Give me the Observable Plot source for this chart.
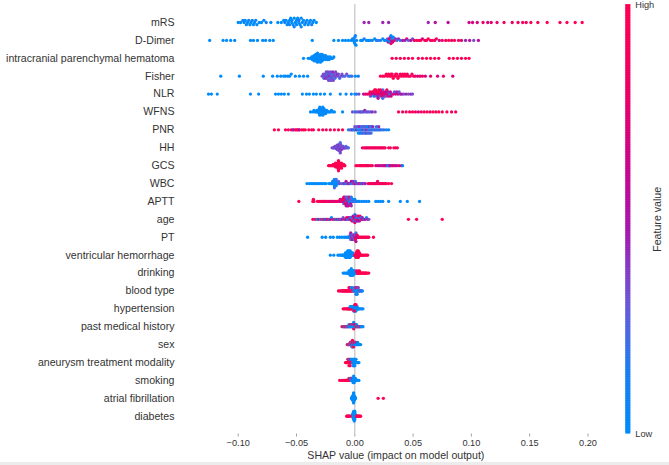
<!DOCTYPE html>
<html><head><meta charset="utf-8">
<script src="https://cdn.jsdelivr.net/npm/d3@7"></script>
<script src="https://cdn.jsdelivr.net/npm/@observablehq/plot@0.6"></script>
<style>
body{margin:0;background:#fff;}
#wrap{position:relative;width:669px;height:465px;overflow:hidden;font-family:"Liberation Sans",Arial,sans-serif;}
#wrap svg{position:absolute;top:0;}
#strip{position:absolute;left:0;bottom:0;width:669px;height:3px;background:#ececec;}
</style></head><body><div id="wrap"><div id="strip"></div></div>
<script>
// Features (top to bottom)
const features = ["mRS","D-Dimer","intracranial parenchymal hematoma","Fisher","NLR","WFNS","PNR","HH","GCS","WBC","APTT","age","PT","ventricular hemorrhage","drinking","blood type","hypertension","past medical history","sex","aneurysm treatment modality","smoking","atrial fibrillation","diabetes"];
// SHAP values in units of 0.001; feature values coded 0 (low) .. 9 (high)
const shap_mRS = [-100,-98,-96,-95,-94,-93,-92,-91,-90,-89,-88,-87,-86,-85,-84,-82,-80,-78,-76,-72,-66,-63,-61,-60,-59,-58,-57,-56,-56,-55,-54,-54,-53,-52,-52,-51,-50,-50,-49,-48,-48,-47,-46,-46,-45,-44,-43,-42,-41,-40,-39,-38,-37,-36,-35,-33,8,12,24,29,63,69,80,98,101,105,110,114,117,122,128,135,140,144,147,151,157,165,176,182,189,195];
const fv_mRS = [0,0,1,0,0,0,0,1,0,0,0,0,0,1,0,0,0,0,1,0,0,0,0,1,0,0,0,0,1,0,0,0,0,0,1,0,0,0,0,0,1,0,0,0,0,0,0,1,0,0,0,0,1,0,0,0,4,4,4,4,4,5,5,6,6,6,7,6,7,7,8,7,8,8,8,9,8,9,9,9,9,9];
const shap_DDimer = [-124.5,-113,-110,-106.5,-103,-89.5,-87,-83.5,-79,-76.5,-73,-70,-36.5,-18,-14,-10.5,-8,-5.5,-3,-2,-1,-1,-0.5,0,0,0.5,1,1.5,5,6.5,8,10,11.5,13,15,17,18.5,20,22,24,25.5,27,28,28.5,29,29.5,30,30.5,31,31,31.5,32,32.5,33,34,35,36,37.5,39,41,43,44.5,46,48,49.5,51,53,55,56.5,58,60,61.5,63,65,66.5,68.5,70,72.5,75,78,80.5,83,85.5,89,91.5,95,98.5,102,106];
const fv_DDimer = [0,0,0,0,0,0,0,0,0,0,0,0,0,0,0,0,0,0,0,0,0,1,0,0,0,1,0,0,0,0,1,0,0,0,1,0,0,2,0,1,0,0,2,5,1,7,0,4,8,0,5,1,6,0,9,4,2,4,1,5,4,6,2,5,3,7,9,8,9,6,9,8,9,7,9,8,9,5,9,8,9,7,8,9,6,4,5,3,5];
const shap_IPH = [-44,-40,-38.5,-37.5,-37,-36.5,-36,-36,-35.5,-35,-35,-34.5,-34.5,-34,-34,-33.5,-33.5,-33,-33,-33,-32.5,-32.5,-32,-32,-32,-31.5,-31.5,-31,-31,-31,-30.5,-30.5,-30,-30,-30,-29.5,-29.5,-29,-29,-28.5,-28.5,-28,-28,-27.5,-27,-27,-26.5,-26,-25.5,-25,-25,-24.5,-24,-23.5,-23,-22.5,-22,-21.5,-21,-20,-19,-18,32,35.5,39,42.5,46,49.5,54.5,58,61.5,65,68.5,72,81,84.5,88,91.5,95,98];
const fv_IPH = [0,0,0,0,0,0,0,0,0,0,0,0,0,0,0,0,0,0,0,0,0,0,0,0,0,0,0,0,0,0,0,0,0,0,0,0,0,0,0,0,0,0,0,0,0,0,0,0,0,0,0,0,0,0,0,0,0,0,0,0,0,0,9,9,8,9,9,9,8,9,9,9,9,8,9,9,9,8,9,9];
const shap_Fisher = [-115,-99,-78.5,-70.5,-66.5,-63.5,-61,-59.5,-57.5,-56,-54.5,-51,-47.5,-44,-40.5,-28,-27,-26.5,-26,-25.5,-25,-24.5,-24,-24,-23.5,-23,-22.5,-22,-22,-21.5,-21,-20.5,-20,-20,-19.5,-19,-18.5,-18,-17.5,-17,-16.5,-16,-15,-14.5,-14,-13,-12,-11,-10,-8.5,-7,-5.5,-4,-2.5,0.5,3,22,24,25.5,27,28,29,30,31,31.5,32,33,34,35,35.5,36,37,38,39,40,41,42,43,44,45,46,47.5,49,50.5,52,54,56,58,60.5,65,71,76,84];
const fv_Fisher = [0,0,0,0,0,0,0,0,0,0,0,0,0,0,0,3,3,2,3,3,4,3,3,2,3,3,3,4,3,2,3,3,3,2,3,4,3,3,3,2,3,3,4,3,3,2,3,3,3,2,3,2,1,2,0,1,9,9,9,9,8,9,9,9,9,8,9,9,9,9,8,9,9,9,9,8,9,8,9,8,7,9,8,7,8,6,7,8,6,7,6,7,6];
const shap_NLR = [-125.5,-123,-118,-89.5,-82.5,-68,-65.5,-63,-60.5,-57,-45,-41.5,-39,-35.5,-33,-29.5,-26,-21,-12.5,-7.5,-3,0,1.5,3.5,7.5,9,10.5,12,13,13.5,14,15,15.5,16,16.5,17,17.5,18,18.5,19,19.5,20,20.5,21,21.5,22,22.5,23,23.5,24,24.5,25,25.5,26,26.5,27,27.5,28,28.5,29,30,30.5,31,32,33,34,35,36,37,38,39,40.5,42,44,46,48,49.5,18,20,22,24];
const fv_NLR = [0,0,0,0,0,0,0,0,0,0,0,0,0,0,0,0,0,0,0,0,1,0,1,3,5,8,6,9,7,3,8,9,5,7,1,9,6,8,2,7,9,4,8,6,9,3,7,5,8,2,6,9,4,7,5,3,8,6,4,7,2,5,6,4,7,3,5,4,6,3,4,5,3,4,3,4,3,9,5,8,2];
const shap_WFNS = [-38,-36,-35,-34,-33,-32.5,-32,-31.5,-31,-31,-30.5,-30.5,-30,-30,-29.5,-29.5,-29,-29,-28.5,-28.5,-28,-28,-27.5,-27.5,-27,-27,-26.5,-26.5,-26,-25.5,-25,-24.5,-24,-23,-22,-21,-20,-19,-17.5,-10.5,-2,0,1.5,3,4.5,5.5,6.5,7.5,8.5,9.5,10.5,12,13.5,15,17.5,37.5,41,44,47,49.5,52,54.5,57,59.5,62,64.5,67,69.5,72,75,79,83,86.5];
const fv_WFNS = [0,0,0,0,0,0,0,0,1,0,0,0,0,0,0,0,0,1,0,0,0,0,0,0,0,0,0,0,0,1,0,0,0,0,0,0,0,0,0,0,3,1,3,2,4,3,1,3,4,2,3,3,2,4,3,8,7,9,8,9,8,6,9,8,9,7,9,8,9,8,9,7,9];
const shap_PNR = [-69,-65.5,-59.5,-57,-54.5,-53,-52.5,-51,-50,-49,-48,-47.5,-45.5,-44,-42.5,-39.5,-37,-35.5,-31,-27.5,-24.5,-21,-17.5,-14,-10.5,-5.5,-4,-3,-2,-1,-0.5,0,1,1.5,2,2.5,3,3.5,4,4.5,5,5.5,6,6.5,7,7.5,8,8.5,9,9.5,10,10.5,11,11.5,12,12.5,13,13.5,14,14.5,15,15.5,16,17,18,18.5,19,20,20.5,21,22,23.5,25,27,29,5,6,7,8,9,10,11,12,13,4,14,3];
const fv_PNR = [9,9,8,9,7,6,4,9,9,8,8,5,9,8,9,9,7,9,9,8,9,7,9,8,9,0,3,1,4,2,0,3,1,5,2,0,3,1,4,0,2,3,1,0,4,2,1,3,0,2,5,1,3,0,2,4,1,0,3,2,1,4,0,2,3,1,0,2,4,1,3,0,2,1,0,2,0,3,1,0,4,2,0,3,1,2,0];
const shap_HH = [-19.5,-18.5,-18,-17.5,-17,-16.5,-16.5,-16,-16,-15.5,-15.5,-15.5,-15,-15,-15,-15,-14.5,-14.5,-14.5,-14.5,-14,-14,-14,-14,-14,-13.5,-13.5,-13.5,-13.5,-13,-13,-13,-13,-13,-12.5,-12.5,-12.5,-12.5,-12,-12,-12,-12,-11.5,-11.5,-11.5,-11,-11,-11,-10.5,-10.5,-10,-10,-9.5,-9,-8.5,-8,-7.5,-7,-6,-5.5,6.5,8,9,10,11,12,13,14,15,16,17,18,19,20,21,22,23,24,25,26,29,30.5,33.5,35,36.5];
const fv_HH = [3,2,3,3,4,3,3,2,3,3,3,4,3,3,2,3,3,3,4,3,3,3,2,3,3,4,3,3,3,2,3,3,4,3,3,3,2,3,3,3,4,3,3,2,3,3,3,4,3,3,2,3,3,3,4,3,2,3,3,2,7,8,7,8,8,7,8,9,7,8,8,7,8,9,8,7,8,8,7,8,9,8,8,9,8];
const shap_GCS = [-22.5,-21.5,-20.5,-19.5,-19,-18.5,-18,-17.5,-17,-17,-16.5,-16.5,-16,-16,-15.5,-15.5,-15.5,-15,-15,-15,-14.5,-14.5,-14.5,-14.5,-14,-14,-14,-14,-14,-13.5,-13.5,-13.5,-13.5,-13,-13,-13,-13,-12.5,-12.5,-12.5,-12,-12,-12,-11.5,-11.5,-11,-11,-10.5,-10,-9.5,-9,-8.5,1,2.5,4,5,6,7,8,9,10,11,12,13.5,15,18,19.5,21,22.5,24,25,26,27,28,29,29.5,30,31,32,33,34.5,36,38,40,41];
const fv_GCS = [9,9,9,9,9,9,9,9,9,9,9,9,9,9,9,9,9,9,9,9,9,9,9,9,9,9,9,9,9,9,9,9,9,9,9,9,9,9,9,9,9,9,9,9,9,9,9,9,9,9,9,9,9,8,9,9,8,9,9,8,9,7,8,9,8,6,7,5,6,4,7,6,5,3,0,1,5,6,4,7,6,5,7,6,0];
const shap_WBC = [-41,-39,-37.5,-36,-35,-33.5,-32,-30.5,-29,-27.5,-26,-24.5,-22,-21,-20,-19.5,-19,-18.5,-18.5,-18,-18,-17.5,-17.5,-17.5,-17,-17,-17,-16.5,-16.5,-16,-16,-15.5,-15,-14.5,-14,-13.5,-13,-11,-10,-9,-8,-7.5,-7,-6,-5.5,-5,-4,-3.5,-3,-2,-1.5,-1,0,0.5,1,2,2.5,3,4,5,5.5,6,7,8,9,11.5,12.5,13.5,14.5,15.5,16.5,17,18,19,19.5,20,21,22,23,24,25,26,27,29,31.5];
const fv_WBC = [0,0,0,0,0,0,0,0,0,0,0,0,0,0,0,0,0,0,1,0,0,0,0,2,0,0,1,0,0,0,2,0,1,0,2,1,3,3,2,4,1,5,3,2,4,6,3,1,5,2,4,3,7,2,4,3,5,2,6,3,4,1,5,3,4,7,8,9,8,7,9,8,6,9,8,7,9,8,9,7,8,9,8,9,9];
const shap_APTT = [-48,-36,-35.5,-35,-32,-30.5,-29,-28,-27,-26,-25,-24,-23,-22,-21,-20,-19,-18,-17,-16,-15,-14,-13,-12.5,-12,-11.5,-11,-10.5,-10,-10,-9.5,-9.5,-9,-9,-8.5,-8.5,-8,-8,-8,-7.5,-7.5,-7,-7,-7,-6.5,-6.5,-6,-6,-6,-5.5,-5.5,-5,-5,-4.5,-4.5,-4,-4,-3.5,-3,-3,-2.5,-2,-1.5,-1,-0.5,0,1,2,3,4,6,8,10,12,18,20,22,24,29,39,45,55.5];
const fv_APTT = [9,9,8,9,9,8,9,7,9,8,6,9,8,7,9,5,8,6,7,8,7,9,6,8,5,7,9,4,6,8,3,7,5,9,2,6,8,4,7,3,5,1,6,8,2,4,7,0,5,3,6,1,4,2,7,0,3,5,1,4,0,2,3,0,1,0,2,0,1,1,0,0,1,0,0,0,0,0,0,0,0,0];
const shap_age = [-36,-34,-32.5,-31,-29.5,-28,-27,-26,-25,-24,-23,-22,-21,-20,-19,-18,-17,-16,-15,-14,-13,-12,-11,-10,-9,-8,-7.5,-7,-6,-5.5,-5,-4.5,-4,-3.5,-3,-3,-2.5,-2,-2,-1.5,-1.5,-1,-1,-0.5,-0.5,0,0,0.5,0.5,1,1,1.5,1.5,2,2,2.5,2.5,3,3,3.5,4,4,4.5,5,5.5,6,6.5,7,8,9,10,11,12,46,53,75];
const fv_age = [9,9,0,7,1,9,2,8,0,5,9,1,6,0,8,3,9,1,5,0,7,2,4,3,7,1,5,9,2,6,0,4,8,3,5,1,7,9,2,4,6,0,8,3,5,7,1,9,4,2,6,8,0,5,3,7,1,4,9,6,2,5,8,3,0,7,4,6,2,5,1,4,3,9,9,9];
const shap_PT = [-40.5,-28,-25,-21,-18.5,-15,-13,-11,-9,-7.5,-6,-5.5,-5,-4.5,-4,-4,-3.5,-3.5,-3,-3,-3,-2.5,-2.5,-2.5,-2,-2,-2,-1.5,-1.5,-1.5,-1,-1,-1,-0.5,-0.5,-0.5,0,0,0,0.5,0.5,0.5,1,1,1.5,1.5,2,2,2.5,3,3.5,4,5,6,7,8,9,10,11,12,16];
const fv_PT = [0,0,0,0,0,0,0,0,0,0,0,1,0,2,0,3,1,5,0,4,2,6,1,3,7,0,5,2,4,8,1,3,6,0,5,2,7,4,1,6,3,8,2,5,7,4,6,8,5,7,6,9,8,9,7,9,8,9,9,8,9];
const shap_VH = [-21,-18,-14.5,-13,-12,-11,-10.5,-10,-9.5,-9,-8.5,-8,-8,-7.5,-7.5,-7,-7,-6.5,-6.5,-6,-6,-6,-5.5,-5.5,-5.5,-5,-5,-5,-4.5,-4.5,-4.5,-4,-4,-4,-3.5,-3.5,-3,-3,-2.5,-2.5,-2,-2,-1.5,-1,-0.5,-8,-7,-6,-5,-4,-6.5,-5.5,0,0.5,1,1,1.5,1.5,2,2,2,2.5,2.5,3,3,3,3.5,3.5,4,4,4.5,5,5.5,6,7,8,9,10,11,1,2,2.5,3];
const fv_VH = [0,0,0,0,0,0,0,0,0,0,0,0,0,0,0,0,0,0,0,0,0,0,0,0,0,0,0,0,0,0,0,0,0,0,0,0,0,0,0,0,0,0,0,0,0,0,0,0,0,0,0,0,9,9,9,9,9,9,9,9,9,9,9,9,9,9,9,9,9,9,9,9,9,9,9,9,9,9,9,9,9,9,9];
const shap_drinking = [-10,-9,-8,-7,-6.5,-6,-5.5,-5,-5,-4.5,-4.5,-4,-4,-4,-3.5,-3.5,-3.5,-3,-3,-3,-3,-2.5,-2.5,-2.5,-2,-2,-2,-1.5,-1.5,-1.5,-1,-1,-0.5,-0.5,0,0,0.5,1,1.5,1.5,2,2.5,3,3,3.5,4,4,4.5,5,5.5,6,6.5,7,7.5,8,8.5,9,9.5,10,11,12];
const fv_drinking = [0,0,0,0,0,0,0,0,0,0,0,0,0,0,0,0,0,0,0,0,0,0,0,0,0,0,0,0,0,0,0,0,0,0,0,0,0,0,0,9,9,9,9,9,9,9,9,9,9,9,9,9,9,9,9,9,9,9,9,9,9];
const shap_bloodType = [-14,-13,-12,-11,-10.5,-10,-9.5,-9,-8.5,-8,-7.5,-7,-6.5,-6,-5.5,-5,-5,-4.5,-4,-4,-3.5,-3,-2.5,-2,-3,-2,-1.5,-1,-0.5,0,0,0.5,0.5,1,1,1,1.5,1.5,1.5,2,2,2,2.5,2.5,3,3,3.5,4,4.5,5,5.5,6,6.5];
const fv_bloodType = [9,9,9,9,9,8,9,9,9,9,8,9,9,9,9,9,9,8,9,9,9,9,9,9,0,0,3,0,9,0,3,0,9,0,0,3,0,9,0,0,3,0,0,9,0,3,0,0,9,0,0,3,0];
const shap_hypertension = [-10,-9,-8,-7,-6.5,-6,-5.5,-5,-4.5,-4,-3.5,-3,-2.5,-2,-1.5,-1,-4,-3,-2.5,-2,-1.5,-1,-1,-0.5,-0.5,0,0,0,0.5,0.5,0.5,1,1,1,1.5,1.5,2,2,2.5,3,3.5,4,5,6,7,-0.5,0,1];
const fv_hypertension = [9,9,9,9,9,9,9,9,9,9,9,9,9,9,9,9,0,0,0,0,0,0,0,0,0,0,0,0,0,0,0,0,0,0,0,0,0,0,0,0,0,0,0,0,0,9,9,9];
const shap_PMH = [-11,-10,-9.5,-9,-8.5,-8,-7.5,-7,-6.5,-6,-5.5,-5,-5,-4.5,-4,-4,-3.5,-3,-3,-2.5,-2.5,-2,-2,-1.5,-1.5,-1,-1,-1,-1,-0.5,-0.5,0,0,0.5,0.5,1,1.5,1.5,2,2.5,3,3.5,4,4.5,5,5.5,6.5,7];
const fv_PMH = [9,0,9,9,0,9,9,0,9,0,0,9,0,0,0,9,0,0,0,0,9,0,0,0,9,0,0,9,0,0,9,0,9,0,9,0,9,0,9,0,9,0,9,0,9,0,0,0];
const shap_sex = [-6.5,-6,-5.5,-5,-4.5,-4,-4,-3.5,-3.5,-3,-3,-2.5,-2.5,-2.5,-2,-2,-2,-2,-1.5,-1.5,-1.5,-1,-1,-1,-0.5,-0.5,0,0,0.5,0.5,1,1,1.5,2,2.5,2.5,3,3.5,4,5];
const fv_sex = [9,9,0,9,9,0,9,9,0,0,9,9,0,9,0,9,0,9,0,9,0,9,0,9,0,9,0,9,0,0,0,9,0,0,0,0,0,0,0,0];
const shap_aneurysmTx = [-8,-7.5,-7,-6.5,-6,-6,-5.5,-5.5,-5,-5,-5,-4.5,-4.5,-4,-4,-4,-3.5,-3.5,-3,-3,-2.5,-2.5,-2,-2,-1.5,-1.5,-1.5,-1,-1,-1,-0.5,-0.5,-0.5,0,0,0,0.5,0.5,1,1,1.5,2,2.5,3,3.5];
const fv_aneurysmTx = [9,9,9,9,9,9,9,9,9,0,9,9,9,9,0,9,9,9,9,0,9,0,0,0,0,0,0,0,0,0,0,0,0,0,0,0,0,0,0,0,0,0,0,0,0];
const shap_smoking = [-13,-11,-9.5,-8.5,-8,-7.5,-7,-6.5,-6,-5.5,-5,-5,-4.5,-4,-4,-3.5,-3.5,-3,-3,-2.5,-2.5,-2,-2,-1.5,-1.5,-1.5,-1,-1,-1,-1,-0.5,-0.5,-0.5,0,0,0.5,0.5,1,1.5,2,2.5,3.5];
const fv_smoking = [9,9,9,9,9,9,9,9,9,9,9,9,9,9,0,9,0,0,9,0,0,0,9,0,0,0,0,0,0,0,0,0,0,0,0,0,0,0,0,0,0,0];
const shap_AF = [-2.75,-2.5,-2.5,-2.25,-2.25,-2.25,-2,-2,-2,-2,-1.75,-1.75,-1.75,-1.75,-1.75,-1.5,-1.5,-1.5,-1.5,-1.5,-1.5,-1.25,-1.25,-1.25,-1.25,-1.25,-1.25,-1,-1,-1,-1,-1,-1,-0.75,-0.75,-0.75,-0.75,-0.75,-0.5,-0.5,-0.5,-0.5,-0.5,-0.25,-0.25,-0.25,-0.25,0,0,0,0.25,0.25,0.5,20,24.5];
const fv_AF = [0,0,0,0,0,0,0,0,0,0,0,0,0,0,0,0,0,0,0,0,0,0,0,0,0,0,0,0,0,0,0,0,0,0,0,0,0,0,0,0,0,0,0,0,0,0,0,0,0,0,0,0,0,9,9];
const shap_diabetes = [-2,-2,-1.75,-1.5,-1.5,-1.5,-1.5,-1.25,-1.25,-1,-1,-1,-1,-1,-1,-0.75,-0.75,-0.5,-0.5,-0.5,-0.5,-0.5,-0.5,-0.5,-0.25,-0.25,0,0,0,0,0,0,0.25,0.5,0.5,-7,-6.5,-6,-5.5,-5,-4.5,-4,1.5,2,2.5,3,3.5,4,4.5,5];
const fv_diabetes = [0,0,0,0,0,0,0,0,0,0,0,0,0,0,0,0,0,0,0,0,0,0,0,0,0,0,0,0,0,0,0,0,0,0,0,9,9,9,9,9,9,9,9,9,9,9,9,9,9,9];

const xTicks = [-0.10,-0.05,0.00,0.05,0.10,0.15,0.20];
// colour ramp (low -> high), sampled from the reference colour bar
const colorStops = [0, 0.15, 0.23, 0.31, 0.40, 0.47, 0.55, 0.62, 0.78, 1];
const colorRamp = ["#008bfb","#1d7ef0","#4a6ae6","#6e55d6","#8c36c4","#a51aad","#b80d9e","#c9068e","#ea0068","#ff0052"];

const shapRows = [shap_mRS,shap_DDimer,shap_IPH,shap_Fisher,shap_NLR,shap_WFNS,shap_PNR,shap_HH,shap_GCS,shap_WBC,shap_APTT,shap_age,shap_PT,shap_VH,shap_drinking,shap_bloodType,shap_hypertension,shap_PMH,shap_sex,shap_aneurysmTx,shap_smoking,shap_AF,shap_diabetes];
const fvRows = [fv_mRS,fv_DDimer,fv_IPH,fv_Fisher,fv_NLR,fv_WFNS,fv_PNR,fv_HH,fv_GCS,fv_WBC,fv_APTT,fv_age,fv_PT,fv_VH,fv_drinking,fv_bloodType,fv_hypertension,fv_PMH,fv_sex,fv_aneurysmTx,fv_smoking,fv_AF,fv_diabetes];

// beeswarm layout (same binning rule as shap's summary plot)
const points = [];
shapRows.forEach((row, i) => {
  const s = row.map(v => v / 1000);
  const fv = fvRows[i];
  const mn = d3.min(s), mx = d3.max(s);
  const nbins = 100;
  const quant = s.map(v => Math.round(nbins * (v - mn) / (mx - mn + 1e-8)));
  const inds = d3.range(s.length).sort((a, b) => quant[a] - quant[b] || a - b);
  const ys = new Array(s.length).fill(0);
  let layer = 0, last = -1;
  for (const k of inds) {
    if (quant[k] !== last) layer = 0;
    ys[k] = Math.ceil(layer / 2) * ((layer % 2) * 2 - 1);
    layer++; last = quant[k];
  }
  const m = d3.max(ys, y => y + 1);
  const sc = 0.9 * (0.4 / m);
  s.forEach((v, k) => points.push({row: i, shap: v, off: ys[k] * sc, fv: (fv[k] ?? 0) / 9}));
});

const colorScale = {type: "linear", domain: colorStops, range: colorRamp};
const nF = features.length;

const main = Plot.plot({
  width: 669, height: 465,
  marginLeft: 190.4, marginRight: 68.7, marginTop: 4.1, marginBottom: 31.4,
  style: {fontFamily: "Liberation Sans, Arial, sans-serif", background: "transparent"},
  x: {domain: [-0.1406, 0.211]},
  y: {domain: [nF, -1]},
  color: colorScale,
  marks: [
    Plot.ruleX([0], {stroke: "#c4c4c4", strokeWidth: 1.2}),
    Plot.dot(points, {x: "shap", y: d => d.row - d.off, r: 1.63, fill: "fv", stroke: null}),
    Plot.axisY(d3.range(nF), {tickFormat: i => features[i], tickSize: 0, tickPadding: 16.4, fontSize: 10.6, fill: "#333", label: null}),
    Plot.axisX(xTicks, {tickFormat: d3.format(".2f"), tickSize: 2.9, tickPadding: 2.6, fontSize: 9.2, fill: "#333", stroke: "#777", strokeWidth: 0.7, label: null}),
    Plot.text(["SHAP value (impact on model output)"], {frameAnchor: "bottom", dy: 21.5, lineAnchor: "middle", fontSize: 10.6, fill: "#333"})
  ]
});
main.style.left = "0px";
document.getElementById("wrap").appendChild(main);

const step = 0.004;
const steps = d3.range(0, 1, step);
const cbar = Plot.plot({
  width: 59, height: 465,
  marginLeft: 15.3, marginRight: 38.7, marginTop: 4.1, marginBottom: 31.4,
  style: {fontFamily: "Liberation Sans, Arial, sans-serif", background: "transparent", overflow: "visible"},
  y: {domain: [0, 1], axis: null},
  color: colorScale,
  marks: [
    Plot.rect(steps, {y1: d => d, y2: d => Math.min(1, d + step * 1.6), fill: d => d + step / 2}),
    Plot.axisY([0, 1], {anchor: "right", tickFormat: d => d === 1 ? "High" : "Low", tickSize: 0, tickPadding: 4.5, fontSize: 9.2, fill: "#333", label: null}),
    Plot.text(["Feature value"], {frameAnchor: "middle", rotate: -90, dx: 29, fontSize: 10.6, fill: "#333"})
  ]
});
cbar.style.left = "610px";
document.getElementById("wrap").appendChild(cbar);
</script></body></html>
